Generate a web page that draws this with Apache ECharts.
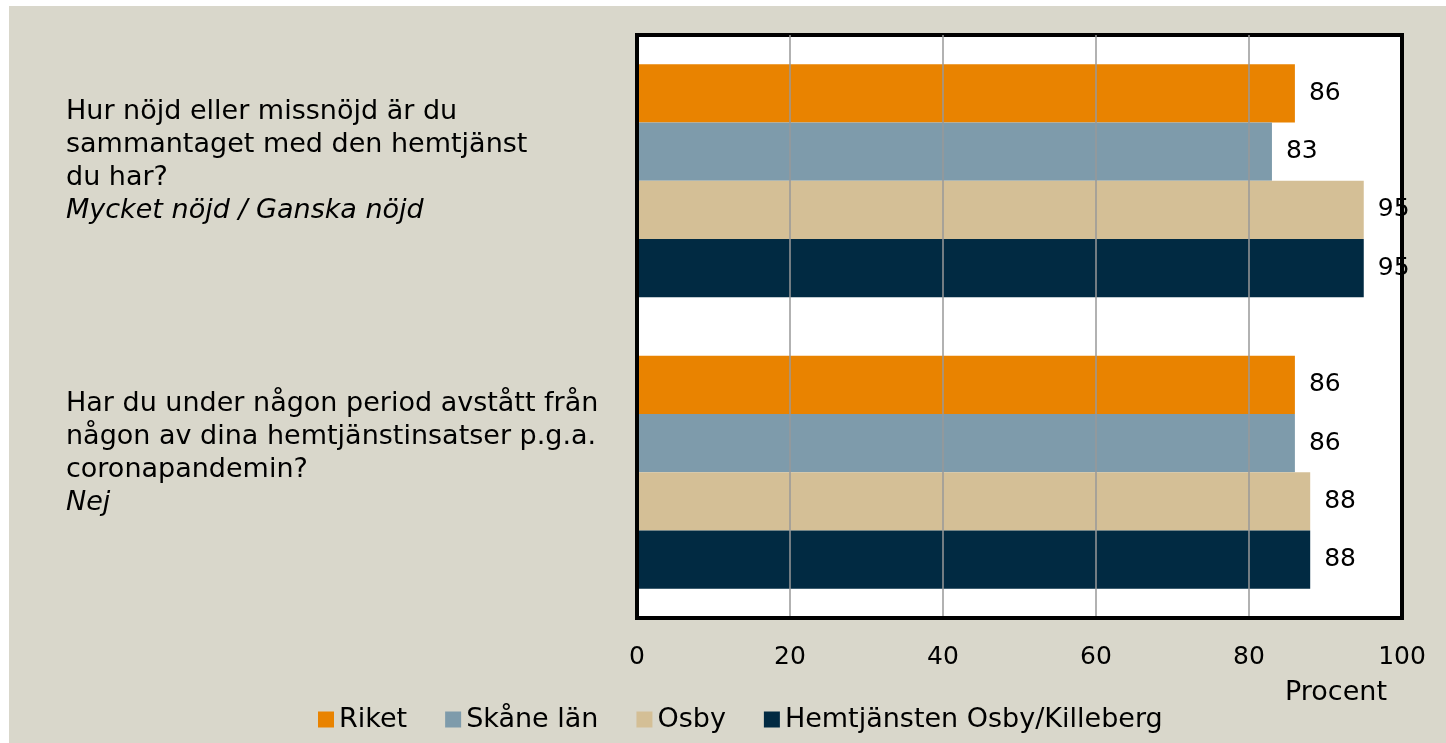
<!DOCTYPE html>
<html>
<head>
<meta charset="utf-8">
<script src="https://cdn.jsdelivr.net/npm/echarts@6/dist/echarts.min.js"></script>
<style>
  html, body { margin: 0; padding: 0; background: #fff; }
  #chart { position: absolute; left: 9px; top: 6px; width: 1437px; height: 737px; background: #D9D7CB; }
</style>
</head>
<body>
<div id="chart"></div>
<script>
// questions (manually wrapped) and the answer option shown in italics
const questions = [
  "Hur nöjd eller missnöjd är du\nsammantaget med den hemtjänst\ndu har?",
  "Har du under någon period avstått från\nnågon av dina hemtjänstinsatser p.g.a.\ncoronapandemin?"
];
const answers = ["Mycket nöjd / Ganska nöjd", "Nej"];
const seriesNames = ["Riket", "Skåne län", "Osby", "Hemtjänsten Osby/Killeberg"];
const riket = [86, 86];
const skane = [83, 86];
const osby = [95, 88];
const hemtjansten = [95, 88];
const xTicks = [0, 20, 40, 60, 80, 100];
const colors = ["#E98300", "#7E9BAB", "#D4BF96", "#012A42"];

const fontFamily = "'DejaVu Sans', sans-serif";
const chart = echarts.init(document.getElementById('chart'));

const values = [riket, skane, osby, hemtjansten];
const series = seriesNames.map(function (name, i) {
  return {
    name: name,
    type: 'bar',
    data: values[i],
    barGap: '0%',
    barCategoryGap: '20%',
    itemStyle: { color: colors[i] },
    label: {
      show: true,
      position: 'right',
      distance: 14,
      color: '#000',
      fontSize: 25,
      fontFamily: fontFamily
    }
  };
});

const frameLine = { show: true, lineStyle: { color: '#000', width: 4 } };

const option = {
  backgroundColor: '#D9D7CB',
  textStyle: { fontFamily: fontFamily },
  color: colors,
  grid: {
    left: 628, right: 44, top: 29, bottom: 125,
    show: true,
    backgroundColor: '#fff',
    borderColor: '#000',
    borderWidth: 4
  },
  legend: {
    data: seriesNames,
    left: 304, top: 695,
    icon: 'rect',
    itemWidth: 16, itemHeight: 16,
    itemGap: 38,
    textStyle: { fontSize: 27, color: '#000', fontFamily: fontFamily }
  },
  xAxis: {
    type: 'value',
    min: xTicks[0],
    max: xTicks[xTicks.length - 1],
    interval: xTicks[1] - xTicks[0],
    z: 3,
    axisLine: frameLine,
    axisTick: { show: false },
    axisLabel: { fontSize: 25, color: '#000', margin: 27, fontFamily: fontFamily },
    splitLine: { showMinLine: false, showMaxLine: false, lineStyle: { color: '#999', width: 1.5 } }
  },
  yAxis: {
    type: 'category',
    inverse: true,
    data: questions,
    z: 3,
    axisLine: frameLine,
    axisTick: { show: false },
    splitLine: { show: false },
    axisLabel: {
      align: 'left',
      margin: 571,
      padding: [0, 0, 38, 0],
      formatter: function (value, idx) {
        const lines = value.split('\n').map(function (l) { return '{q|' + l + '}'; });
        return lines.join('\n') + '\n{a|' + answers[idx] + '}';
      },
      rich: {
        q: { fontSize: 27, lineHeight: 33, color: '#000', fontFamily: fontFamily },
        a: { fontSize: 27, lineHeight: 33, color: '#000', fontStyle: 'italic', fontFamily: fontFamily }
      }
    }
  },
  graphic: [{
    type: 'text',
    left: 1276, top: 673,
    style: { text: 'Procent', fontSize: 27, fill: '#000', fontFamily: fontFamily }
  }],
  series: series
};
chart.setOption(option);
</script>
</body>
</html>
